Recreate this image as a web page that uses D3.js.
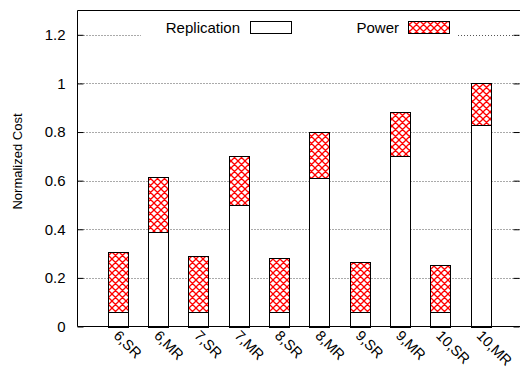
<!DOCTYPE html>
<html>
<head>
<meta charset="utf-8">
<script src="https://cdn.jsdelivr.net/npm/d3@7"></script>
<style>
  html, body { margin: 0; padding: 0; background: #fff; }
  svg { display: block; font-family: "Liberation Sans", Arial, Helvetica, sans-serif; }
</style>
</head>
<body>
<svg id="chart" width="520" height="367"></svg>
<script>
// Configurations (number of servers, SR/MR scheme)
const categories = ["6,SR", "6,MR", "7,SR", "7,MR", "8,SR", "8,MR", "9,SR", "9,MR", "10,SR", "10,MR"];
// Stacked cost components, normalized
const replication = [0.06, 0.39, 0.06, 0.50, 0.06, 0.61, 0.06, 0.70, 0.06, 0.83];
const power       = [0.245, 0.225, 0.228, 0.203, 0.22, 0.192, 0.204, 0.182, 0.192, 0.17];
const yTicks = [0, 0.2, 0.4, 0.6, 0.8, 1, 1.2];
const seriesNames = ["Replication", "Power"];

const svg = d3.select("#chart");
const plotL = 77.5, plotR = 521, plotT = 10.5, plotB = 326.5;

const x = d3.scaleLinear().domain([-1, 10]).range([plotL, plotR]);
const y = d3.scaleLinear().domain([0, 1.3]).range([plotB, plotT]);
const barW = x(0.5) - x(0);

// Cross-hatch pattern for the Power component
const defs = svg.append("defs");
const pat = defs.append("pattern")
  .attr("id", "hatch").attr("patternUnits", "userSpaceOnUse")
  .attr("width", 7).attr("height", 7);
pat.append("rect").attr("width", 7).attr("height", 7).attr("fill", "#fff");
pat.append("path").attr("d", "M0,0L7,7M7,0L0,7M-1,6L1,8M6,-1L8,1M-1,1L1,-1M6,8L8,6")
  .attr("stroke", "#f00").attr("stroke-width", 1.3).attr("fill", "none");

// Grid lines (dotted), interrupted by the key on the top line
const key = { x0: 141, x1: 458, y0: 14, y1: 44 };
const grid = svg.append("g");
yTicks.filter(t => t > 0).forEach(t => {
  const yy = Math.round(y(t)) + 0.5;
  const segs = (yy > key.y0 && yy < key.y1) ? [[plotL, key.x0], [key.x1, plotR]] : [[plotL, plotR]];
  segs.forEach(([a, b]) => {
    grid.append("line")
      .attr("x1", a).attr("x2", b).attr("y1", yy).attr("y2", yy)
      .attr("stroke", "#555").attr("stroke-width", 1)
      .attr("stroke-dasharray", "1,2");
  });
});

// Stacked bars
const bars = svg.append("g");
categories.forEach((c, i) => {
  const x0 = x(i) - barW / 2;
  const r = replication[i], p = power[i];
  bars.append("rect")
    .attr("x", Math.round(x0) + 0.5).attr("width", Math.round(barW))
    .attr("y", Math.round(y(r)) + 0.5).attr("height", Math.round(y(0)) - Math.round(y(r)))
    .attr("fill", "#fff").attr("stroke", "#000").attr("stroke-width", 1);
  bars.append("rect")
    .attr("x", Math.round(x0) + 0.5).attr("width", Math.round(barW))
    .attr("y", Math.round(y(r + p)) + 0.5).attr("height", Math.round(y(r)) - Math.round(y(r + p)))
    .attr("fill", "url(#hatch)").attr("stroke", "#000").attr("stroke-width", 1);
});

// Frame
svg.append("path")
  .attr("d", `M${plotL},${plotT}H${plotR}V${plotB}H${plotL}Z`)
  .attr("fill", "none").attr("stroke", "#000").attr("stroke-width", 1);

// Y axis (ticks inward on both sides)
const yAxis = d3.axisLeft(y).tickValues(yTicks).tickSize(-6).tickPadding(12)
  .tickFormat(d => d3.format("~g")(d));
const gy = svg.append("g").attr("transform", `translate(${plotL},0)`).call(yAxis);
gy.select(".domain").remove();
gy.selectAll("text").attr("font-size", 15).attr("fill", "#000")
  .attr("font-family", "Liberation Sans, Arial, sans-serif");
gy.selectAll("line").attr("stroke", "#000");

const yAxisR = d3.axisRight(y).tickValues(yTicks).tickSize(-6).tickFormat("");
const gyr = svg.append("g").attr("transform", `translate(${plotR - 1.5},0)`).call(yAxisR);
gyr.select(".domain").remove();
gyr.selectAll("line").attr("stroke", "#000");

// X tick labels, rotated
svg.append("g").selectAll("text").data(categories).join("text")
  .attr("transform", (d, i) => `translate(${x(i) - 5},${plotB + 10}) rotate(45)`)
  .attr("font-size", 14.5).attr("fill", "#000")
  .text(d => d);

// Y axis title
svg.append("text")
  .attr("transform", `translate(22,${(plotT + plotB) / 2 - 7}) rotate(-90)`)
  .attr("text-anchor", "middle").attr("font-size", 13).attr("fill", "#000")
  .text("Normalized Cost");

// Key
const keyItems = [
  { name: seriesNames[0], textX: 240, boxX: 250, fill: "#fff" },
  { name: seriesNames[1], textX: 399, boxX: 408, fill: "url(#hatch)" }
];
const kg = svg.append("g");
keyItems.forEach(k => {
  kg.append("text").attr("x", k.textX).attr("y", 33)
    .attr("text-anchor", "end").attr("font-size", 15).attr("fill", "#000").text(k.name);
  kg.append("rect").attr("x", k.boxX + 0.5).attr("y", 21.5).attr("width", 41).attr("height", 12)
    .attr("fill", k.fill).attr("stroke", "#000").attr("stroke-width", 1);
});
</script>
</body>
</html>
